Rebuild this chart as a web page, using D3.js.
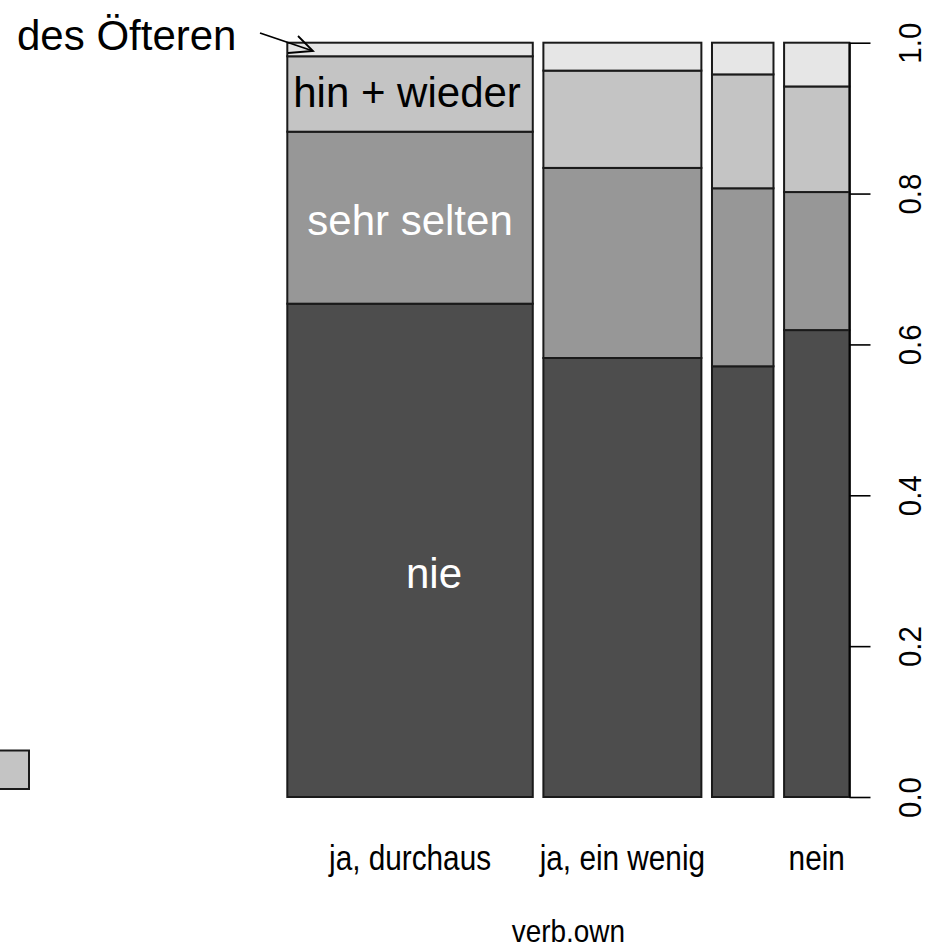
<!DOCTYPE html>
<html lang="de">
<head>
  <meta charset="UTF-8">
  <title>Spineplot verb.own</title>
  <script src="https://d3js.org/d3.v7.min.js"></script>
  <style>
    html, body { margin: 0; padding: 0; background: #fff; }
    svg { display: block; font-family: "Liberation Sans", Arial, sans-serif; }
  </style>
</head>
<body>
<div class="main"></div>
<script>

  // categories of verb.own (third label is not printed in the original)
  const categories = ["ja, durchaus", "ja, ein wenig", "", "nein"];
  // relative column widths (share of cases per category)
  const colShare = [0.463, 0.298, 0.116, 0.123];
  // response levels, bottom to top
  const levels = ["nie", "sehr selten", "hin + wieder", "des Öfteren"];
  const nie         = [0.654, 0.582, 0.571, 0.619];
  const sehrSelten  = [0.228, 0.252, 0.236, 0.183];
  const hinWieder   = [0.100, 0.129, 0.151, 0.140];
  const desOefteren = [0.018, 0.037, 0.042, 0.058];
  const yTicks = [0, 0.2, 0.4, 0.6, 0.8, 1.0];
  const xAxisTitle = "verb.own";

  const fills = ["#4D4D4D", "#979797", "#C4C4C4", "#E6E6E6"];
  const gap = 0.02;
  const width = 929, height = 948;

  let table = categories.map((c, i) => ({
    cat: i, share: colShare[i],
    "nie": nie[i], "sehr selten": sehrSelten[i],
    "hin + wieder": hinWieder[i], "des Öfteren": desOefteren[i]
  }));

  // left edge of each column in "share" units, with gaps in between
  let starts = [];
  let acc = 0;
  colShare.forEach((s, i) => { starts.push(acc); acc += s + gap; });

  let xScale = d3.scaleLinear().domain([0, d3.sum(colShare) + gap * (categories.length - 1)]).range([287.3, 849.3]);
  let yScale = d3.scaleLinear().domain([0, 1]).range([797, 42.7]);

  let svg = d3.select(".main").append("svg")
    .attr("width", width)
    .attr("height", height);

  // bit of a legend box cut off at the left edge
  svg.append("rect")
    .attr("x", -12).attr("y", 750.5)
    .attr("width", 41).attr("height", 38.5)
    .style("fill", fills[2])
    .style("stroke", "#1a1a1a")
    .style("stroke-width", 2);

  let stacked = d3.stack().keys(levels)(table);

  let layers = svg.append("g").selectAll("g")
    .data(stacked)
    .join("g")
    .style("fill", (d, i) => fills[i]);

  layers.selectAll("rect")
    .data(d => d)
    .join("rect")
    .attr("x", d => xScale(starts[d.data.cat]))
    .attr("width", d => xScale(starts[d.data.cat] + d.data.share) - xScale(starts[d.data.cat]))
    .attr("y", d => yScale(d[1]))
    .attr("height", d => yScale(d[0]) - yScale(d[1]))
    .style("stroke", "#1a1a1a")
    .style("stroke-width", 2);

  // right axis
  let yAxis = d3.axisRight(yScale)
    .tickValues(yTicks)
    .tickSize(21)
    .tickFormat(d3.format(".1f"));

  let ax = svg.append("g")
    .attr("transform", "translate(849.5,0)")
    .call(yAxis);
  ax.select(".domain").attr("d", `M0.5,${yScale(0)}V${yScale(1)}`).style("stroke", "#000").style("stroke-width", 1.6);
  ax.selectAll(".tick line").style("stroke", "#000").style("stroke-width", 1.6);
  ax.selectAll(".tick text")
    .attr("x", 0).attr("y", 0).attr("dy", null)
    .attr("transform", "translate(71,0) rotate(-90) scale(0.92,1)")
    .attr("text-anchor", "middle")
    .style("font-family", "'Liberation Sans', Arial, sans-serif")
    .style("font-size", "32px")
    .style("fill", "#000");

  // category labels under the columns (slightly condensed like the original)
  svg.append("g").selectAll("text")
    .data(categories)
    .join("text")
    .attr("transform", (d, i) => `translate(${xScale(starts[i] + colShare[i] / 2)},870) scale(0.85,1)`)
    .attr("text-anchor", "middle")
    .style("font-size", "35px")
    .text(d => d);

  svg.append("text")
    .attr("transform", `translate(${xScale((d3.sum(colShare) + gap * 3) / 2)},942) scale(0.9,1)`)
    .attr("text-anchor", "middle")
    .style("font-size", "31px")
    .text(xAxisTitle);

  // annotations
  let c1 = xScale(starts[0] + colShare[0] / 2);
  svg.append("text").attr("x", c1 - 3).attr("y", 107).attr("text-anchor", "middle")
    .style("font-size", "42px").style("fill", "#000").text(levels[2]);
  svg.append("text").attr("x", c1).attr("y", 235).attr("text-anchor", "middle")
    .style("font-size", "42px").style("fill", "#fff").text(levels[1]);
  svg.append("text").attr("x", 434).attr("y", 588).attr("text-anchor", "middle")
    .style("font-size", "42px").style("fill", "#fff").text(levels[0]);
  svg.append("text").attr("x", 17).attr("y", 50)
    .style("font-size", "42px").style("fill", "#000").text(levels[3]);

  // arrow pointing at the thin top segment
  let arrow = svg.append("g").style("stroke", "#000").style("stroke-width", 1.8).style("fill", "none");
  arrow.append("line").attr("x1", 260).attr("y1", 33).attr("x2", 313).attr("y2", 51);
  arrow.append("polyline").attr("points", "298,36 313,51 288,53");

</script>
</body>
</html>
